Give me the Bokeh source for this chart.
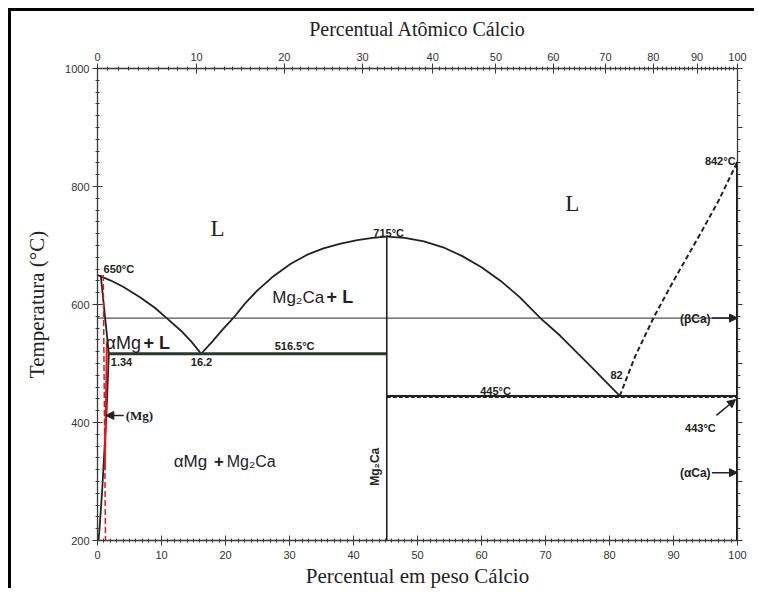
from bokeh.plotting import figure
from bokeh.models import (Range1d, LinearAxis, FixedTicker, CustomJSTickFormatter,
                          Label, Arrow, NormalHead)
from bokeh.embed import file_html
from bokeh.resources import INLINE

# ---------------- data (wt% Ca, temperature in deg C) ----------------
M_CA = 40.078   # atomic mass of calcium
M_MG = 24.305   # atomic mass of magnesium

wt_ticks = [0, 10, 20, 30, 40, 50, 60, 70, 80, 90, 100]
at_ticks = [0, 10, 20, 30, 40, 50, 60, 70, 80, 90, 100]
temp_ticks = [200, 400, 600, 800, 1000]

liq_left_wt = [0, 2, 4, 6.7, 9, 10.9, 13, 14.6, 16.2]
liq_left_T = [650, 641, 630, 612, 594, 576, 556, 538, 516.5]

liq_mid_wt = [16.2, 18, 19.5, 21.3, 23, 25, 27.5, 30.2, 32.7, 35.3, 38, 40.6, 43, 45.2]
liq_mid_T = [516.5, 538, 557, 578, 601, 624, 648, 669, 684, 695, 703, 709, 713, 715]

liq_right_wt = [45.2, 48, 51, 54, 57, 60, 63, 66, 69.2, 72.3, 77, 81.6]
liq_right_T = [715, 713, 707, 697, 682, 663, 640, 612, 577, 547, 496, 445]

liq_ca_wt = [81.6, 84, 86.9, 90, 94.2, 97, 100]
liq_ca_T = [445, 512, 578, 640, 720, 775, 842]

solidus_wt = [0.5, 1.77]
solidus_T = [650, 516.5]

solvus_wt = [1.77, 1.4, 0.73, 0.3, 0.15]
solvus_T = [516.5, 415, 285, 217, 200]

red_dash_wt = [0.9, 1.25]
red_dash_T = [650, 200]
red_solid_wt = [1.47, 1.14]
red_solid_T = [534, 319]

eut1_wt = [1.77, 45.2]
eut1_T = [516.5, 516.5]
eut2_wt = [45.2, 100]
eut2_T = [445, 445]
eut2b_T = [443, 443]
beta_wt = [0, 100]
beta_T = [577, 577]
mg2ca_wt = [45.2, 45.2]
mg2ca_T = [200, 715]
ca_wt = [100, 100]
ca_T = [200, 842]


# at% -> wt% conversion for the top axis ticks
def at_to_wt(a):
    return round(100.0 * a * M_CA / (a * M_CA + (100 - a) * M_MG), 6)


top_major = [at_to_wt(a) for a in at_ticks]
top_minor = [at_to_wt(a) for a in range(0, 101)]

INK = "#222222"
AX = "#3a3a3a"

p = figure(width=746, height=580, output_backend="svg", toolbar_location=None,
           x_range=Range1d(0, 100), y_range=Range1d(200, 1000),
           x_axis_location=None, y_axis_location=None,
           min_border_left=86, min_border_right=20, min_border_top=57, min_border_bottom=51,
           background_fill_color="white", border_fill_color="white",
           styles={"margin-left": "8px", "margin-top": "8px",
                   "border-left": "3px solid black", "border-top": "3px solid black"})
p.outline_line_color = None
p.xgrid.visible = False
p.ygrid.visible = False


def style_axis(ax):
    ax.axis_line_color = AX
    ax.axis_line_width = 1.3
    ax.major_tick_line_color = AX
    ax.minor_tick_line_color = AX
    ax.major_tick_in = 5
    ax.major_tick_out = 5
    ax.minor_tick_in = 2
    ax.minor_tick_out = 2
    ax.major_label_text_font = "Liberation Sans"
    ax.major_label_text_font_size = "11px"
    ax.major_label_text_color = "#333333"
    ax.axis_label_text_font = "Liberation Serif"
    ax.axis_label_text_font_style = "normal"
    ax.axis_label_text_color = INK


bottom = LinearAxis(ticker=FixedTicker(ticks=wt_ticks, minor_ticks=list(range(0, 101))),
                    axis_label="Percentual em peso Cálcio")
style_axis(bottom)
bottom.axis_label_text_font_size = "21px"
bottom.axis_label_standoff = 2
bottom.major_label_standoff = 5
p.add_layout(bottom, "below")

top = LinearAxis(ticker=FixedTicker(ticks=top_major, minor_ticks=top_minor),
                 formatter=CustomJSTickFormatter(
                     args=dict(mca=M_CA, mmg=M_MG),
                     code="const a = (tick/mca)/((tick/mca)+((100-tick)/mmg))*100; return Math.round(a).toString();"),
                 axis_label="Percentual Atômico Cálcio")
style_axis(top)
top.axis_label_text_font_size = "20px"
top.axis_label_standoff = 10
top.major_label_standoff = 3
p.add_layout(top, "above")

left = LinearAxis(ticker=FixedTicker(ticks=temp_ticks, minor_ticks=list(range(200, 1001, 20))),
                  axis_label="Temperatura (°C)")
style_axis(left)
left.axis_label_text_font_size = "21px"
left.axis_label_standoff = 13
left.major_label_standoff = 3
p.add_layout(left, "left")

right = LinearAxis(ticker=FixedTicker(ticks=list(range(200, 1001, 100)),
                                      minor_ticks=list(range(200, 1001, 20))))
style_axis(right)
right.major_tick_in = 0
right.minor_tick_in = 0
right.major_tick_out = 5
right.minor_tick_out = 3
right.major_label_text_alpha = 0
p.add_layout(right, "right")

# ---------------- phase boundaries ----------------
p.line(beta_wt, beta_T, line_color="#555555", line_width=1.2)
p.line(liq_left_wt, liq_left_T, line_color=INK, line_width=1.8)
p.line(liq_mid_wt, liq_mid_T, line_color=INK, line_width=1.8)
p.line(liq_right_wt, liq_right_T, line_color=INK, line_width=1.8)
p.line(liq_ca_wt, liq_ca_T, line_color=INK, line_width=2, line_dash="5 3")
p.line(solidus_wt, solidus_T, line_color=INK, line_width=1.8)
p.line(solvus_wt, solvus_T, line_color=INK, line_width=1.8)
p.line(eut1_wt, eut1_T, line_color="#2b382b", line_width=3)
p.line(eut2_wt, eut2_T, line_color=INK, line_width=2)
p.line(eut2_wt, eut2b_T, line_color=INK, line_width=1.5, line_dash="4 2")
p.line(mg2ca_wt, mg2ca_T, line_color=INK, line_width=1.6)
p.line(ca_wt, ca_T, line_color="#111111", line_width=3)
p.line(red_dash_wt, red_dash_T, line_color="#e8141b", line_width=1.5, line_dash="6 3")
p.line(red_solid_wt, red_solid_T, line_color="#e8141b", line_width=2)


# ---------------- annotations ----------------
def lab(x, y, text, size="11px", font="Liberation Sans", style="bold", align="center",
        baseline="middle", color=INK, angle=0):
    p.add_layout(Label(x=x, y=y, text=text, text_font=font, text_font_size=size,
                       text_font_style=style, text_align=align, text_baseline=baseline,
                       text_color=color, angle=angle, angle_units="deg"))


lab(18.75, 729, "L", size="23px", font="Liberation Serif", style="normal")
lab(74.2, 771, "L", size="23px", font="Liberation Serif", style="normal")
lab(0.94, 661, "650°C", align="left")
lab(45.5, 722, "715°C")
lab(30.8, 529, "516.5°C")
lab(3.75, 502, "1.34")
lab(16.25, 502, "16.2")
lab(62.2, 454, "445°C")
lab(81.1, 480, "82")
lab(99.7, 844, "842°C", align="right")
lab(94.2, 391, "443°C")
lab(95.8, 576, "(βCa)", size="12px", align="right")
lab(95.8, 315, "(αCa)", size="12px", align="right")
lab(4.4, 412, "(Mg)", size="13px", font="Liberation Serif", align="left")
# region labels (the "+" signs are bold in the original)
lab(27.3, 612, "Mg₂Ca", size="17px", style="normal", align="left")
lab(35.8, 612, "+ L", size="18px", style="bold", align="left")
lab(1.25, 534, "αMg", size="18px", style="normal", align="left")
lab(7.2, 534, "+ L", size="18px", style="bold", align="left")
lab(11.9, 334, "αMg", size="17px", style="normal", align="left")
lab(18.2, 334, "+", size="17px", style="bold", align="left")
lab(20.2, 334, "Mg₂Ca", size="16px", style="normal", align="left")
lab(43.4, 325, "Mg₂Ca", size="12px", style="bold", angle=90)
lab(2.0, 137, "Mg", size="16px", font="Liberation Serif", style="normal")
lab(101.3, 137, "Ca", size="15px", font="Liberation Sans", style="normal")


def arrow(x0, y0, x1, y1):
    p.add_layout(Arrow(end=NormalHead(size=8, fill_color=INK, line_color=INK),
                       x_start=x0, y_start=y0, x_end=x1, y_end=y1,
                       line_color=INK, line_width=1.5))


arrow(4.1, 412, 1.3, 412)
arrow(96.0, 577, 100, 577)
arrow(96.0, 315, 100, 315)
arrow(96.7, 412, 99.7, 439)

open("out.html", "w").write(file_html(p, INLINE))
